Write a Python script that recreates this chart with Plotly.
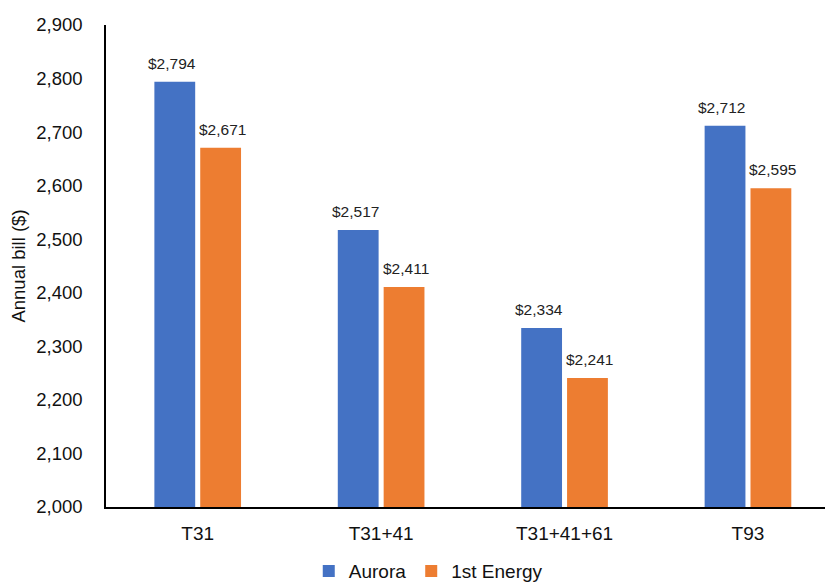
import plotly.graph_objects as go

categories = ["T31", "T31+41", "T31+41+61", "T93"]
aurora = [2794, 2517, 2334, 2712]
first_energy = [2671, 2411, 2241, 2595]
series_names = ["Aurora", "1st Energy"]
colors = ["#4472C4", "#ED7D31"]
y_ticks = list(range(2000, 2901, 100))

FONT = "Liberation Sans, Arial, Helvetica, sans-serif"

fig = go.Figure()
for name, vals, col in zip(series_names, [aurora, first_energy], colors):
    fig.add_trace(go.Bar(x=categories, y=vals, name=name, marker_color=col,
                         marker_line_width=0))

# data labels
for vals, shift in [(aurora, -26), (first_energy, 25)]:
    for c, v in zip(categories, vals):
        fig.add_annotation(x=c, y=v, text=f"${v:,}", showarrow=False,
                           xshift=shift, yshift=8, yanchor="bottom",
                           font=dict(size=15.5, color="#222", family=FONT))

fig.update_layout(
    width=825, height=583,
    margin=dict(l=106, r=0, t=25, b=76, autoexpand=False),
    paper_bgcolor="white", plot_bgcolor="white",
    barmode="group", bargap=0.5, bargroupgap=0.11,
    font=dict(family=FONT, color="#111"),
    showlegend=True,
    legend=dict(orientation="h", x=0.282, xanchor="left", y=-0.133, yanchor="middle",
                font=dict(size=19, color="#111"), itemwidth=30,
                traceorder="normal"),
)
fig.update_xaxes(range=[-0.5, 3.42], showline=True, linecolor="black", linewidth=1.5,
                 ticks="", tickfont=dict(size=19), showgrid=False, ticklabelstandoff=8)
fig.update_yaxes(range=[2000, 2900], tickvals=y_ticks, tickformat=",", showline=True,
                 linecolor="black", linewidth=1.5, showgrid=False, zeroline=False,
                 ticks="", tickfont=dict(size=18.5), ticklabelstandoff=18,
                 title=dict(text="Annual bill ($)", font=dict(size=18.5), standoff=6))

fig.write_html("out.html")
